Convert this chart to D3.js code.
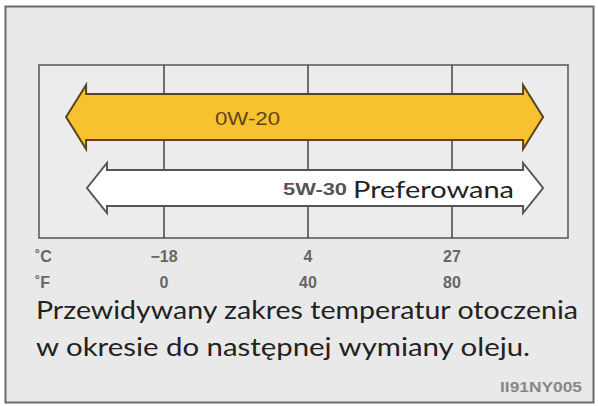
<!DOCTYPE html>
<html><head><meta charset="utf-8">
<script src="https://cdn.jsdelivr.net/npm/d3@7"></script>
<style>html,body{margin:0;padding:0;background:#fff;}svg{display:block;}</style>
</head><body>
<script>
// Data
const tickF = [0, 40, 80];          // °F gridline positions
const tickC = ["−18", "4", "27"];   // °C labels
const grades = ["0W-20", "5W-30"];
const rangeFrom = [-27.2, -21.4];   // °F, arrow tips
const rangeTo = [105.3, 105.3];
const captionLines = ["Przewidywany zakres temperatur otoczenia", "w okresie do następnej wymiany oleju."];

const W = 598, H = 406;
const svg = d3.select("body").append("svg").attr("width", W).attr("height", H);

// Outer frame
svg.append("rect").attr("x", 5.5).attr("y", 6.5).attr("width", 588).attr("height", 396)
  .attr("fill", "#e9e9e9").attr("stroke", "#6a6a6a").attr("stroke-width", 2);

const x = d3.scaleLinear().domain([0, 80]).range([164, 452]);
const plot = {l: 39, r: 568, t: 65, b: 238};

// plot frame
svg.append("rect").attr("x", plot.l).attr("y", plot.t).attr("width", plot.r - plot.l).attr("height", plot.b - plot.t)
  .attr("fill", "#ececec").attr("stroke", "#555").attr("stroke-width", 1.5);

// gridlines
svg.selectAll("line.grid").data(tickF).join("line").attr("class", "grid")
  .attr("x1", d => x(d)).attr("x2", d => x(d)).attr("y1", plot.t).attr("y2", plot.b)
  .attr("stroke", "#444").attr("stroke-width", 1.5);

// arrows
const y = d3.scalePoint().domain(grades).range([117, 188]);
const bodyH = [23, 18], headH = [32, 25], headL = 20;
const fills = ["#f8c12f", "#ffffff"], strokes = ["#5a4320", "#555555"];
grades.forEach((g, i) => {
  const x0 = x(rangeFrom[i]), x1 = x(rangeTo[i]), cy = y(g);
  const p = d3.path();
  p.moveTo(x0, cy);
  p.lineTo(x0 + headL, cy - headH[i]);
  p.lineTo(x0 + headL, cy - bodyH[i]);
  p.lineTo(x1 - headL, cy - bodyH[i]);
  p.lineTo(x1 - headL, cy - headH[i]);
  p.lineTo(x1, cy);
  p.lineTo(x1 - headL, cy + headH[i]);
  p.lineTo(x1 - headL, cy + bodyH[i]);
  p.lineTo(x0 + headL, cy + bodyH[i]);
  p.lineTo(x0 + headL, cy + headH[i]);
  p.closePath();
  svg.append("path").attr("d", p.toString()).attr("fill", fills[i])
    .attr("stroke", strokes[i]).attr("stroke-width", 2).attr("stroke-linejoin", "miter");
});

const lblFont = "Liberation Sans, Arial, sans-serif";
// arrow labels
svg.append("text").attr("x", 215).attr("y", 125)
  .attr("font-family", lblFont).attr("font-size", 18)
  .attr("fill", "#5a4618").attr("textLength", 65).attr("lengthAdjust", "spacingAndGlyphs").text(grades[0]);
svg.append("text").attr("x", 283).attr("y", 195)
  .attr("font-family", lblFont).attr("font-size", 17).attr("font-weight", "bold")
  .attr("fill", "#555").attr("textLength", 64).attr("lengthAdjust", "spacingAndGlyphs").text(grades[1]);
svg.append("text").attr("x", 353).attr("y", 198)
  .attr("font-family", "Lato, sans-serif").attr("font-size", 24)
  .attr("fill", "#222").attr("textLength", 161).attr("lengthAdjust", "spacingAndGlyphs").text("Preferowana");

// axis labels
const tickSize = 16;
svg.append("text").attr("x", 35).attr("y", 262).attr("font-family", lblFont).attr("font-size", tickSize)
  .attr("font-weight", "bold").attr("fill", "#666").text("˚C");
svg.append("text").attr("x", 35).attr("y", 288).attr("font-family", lblFont).attr("font-size", tickSize)
  .attr("font-weight", "bold").attr("fill", "#666").text("˚F");
svg.selectAll("text.tc").data(tickF).join("text").attr("class", "tc")
  .attr("x", d => x(d)).attr("y", 262).attr("text-anchor", "middle")
  .attr("font-family", lblFont).attr("font-size", tickSize).attr("font-weight", "bold").attr("fill", "#666")
  .text((d, i) => tickC[i]);
svg.selectAll("text.tf").data(tickF).join("text").attr("class", "tf")
  .attr("x", d => x(d)).attr("y", 288).attr("text-anchor", "middle")
  .attr("font-family", lblFont).attr("font-size", tickSize).attr("font-weight", "bold").attr("fill", "#666")
  .text(d => d);

// caption
const capW = [542, 494];
captionLines.forEach((t, i) => {
  svg.append("text").attr("x", 36).attr("y", 319 + i * 37)
    .attr("font-family", "Lato, sans-serif").attr("font-size", 25).attr("fill", "#222")
    .attr("textLength", capW[i]).attr("lengthAdjust", "spacingAndGlyphs").text(t);
});

// code
svg.append("text").attr("x", 500).attr("y", 392)
  .attr("font-family", lblFont).attr("font-size", 14).attr("font-weight", "bold").attr("fill", "#888")
  .attr("textLength", 82).attr("lengthAdjust", "spacingAndGlyphs").text("II91NY005");
</script>
</body></html>
